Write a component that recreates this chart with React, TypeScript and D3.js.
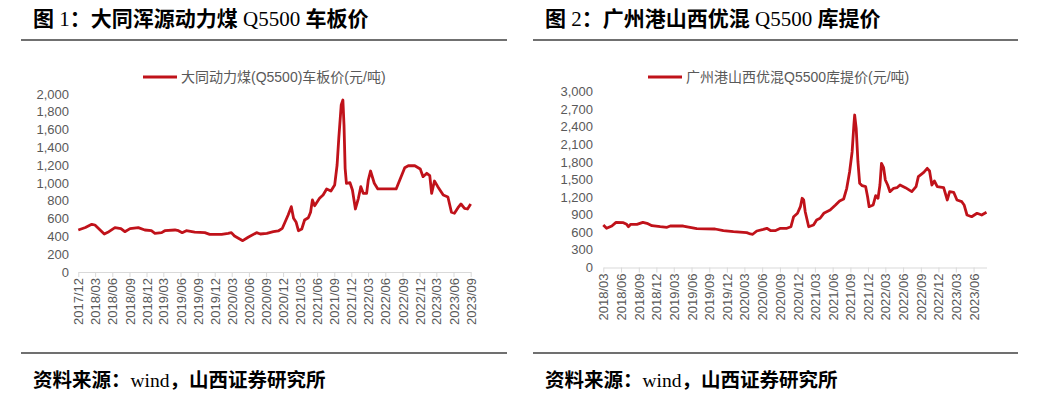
import React, { useEffect, useRef } from 'react';
import * as d3 from 'd3';

// 图1 大同浑源动力煤 Q5500 车板价
const datongDates = [
  '2017-12-01', '2018-01-08', '2018-02-11', '2018-02-28', '2018-04-19', '2018-05-08', '2018-06-15',
  '2018-07-17', '2018-08-07', '2018-09-04', '2018-10-18', '2018-11-22', '2018-12-27', '2019-01-15',
  '2019-02-20', '2019-03-09', '2019-05-02', '2019-05-21', '2019-06-10', '2019-07-02', '2019-08-16',
  '2019-10-09', '2019-11-04', '2020-01-07', '2020-02-11', '2020-02-28', '2020-03-16', '2020-04-29',
  '2020-05-28', '2020-07-12', '2020-08-01', '2020-09-05', '2020-10-10', '2020-11-05', '2020-11-27',
  '2020-12-28', '2021-01-14', '2021-01-26', '2021-02-09', '2021-02-21', '2021-03-11', '2021-03-26',
  '2021-04-15', '2021-04-27', '2021-05-07', '2021-05-19', '2021-06-14', '2021-07-03', '2021-07-22',
  '2021-08-14', '2021-09-03', '2021-09-16', '2021-09-25', '2021-10-08', '2021-10-17', '2021-10-23',
  '2021-10-29', '2021-11-05', '2021-11-24', '2021-12-07', '2021-12-23', '2022-01-08', '2022-01-21',
  '2022-02-03', '2022-02-21', '2022-03-02', '2022-03-14', '2022-04-03', '2022-04-22', '2022-07-29',
  '2022-09-13', '2022-10-02', '2022-11-06', '2022-12-05', '2022-12-20', '2023-01-09', '2023-01-25',
  '2023-02-04', '2023-02-19', '2023-03-09', '2023-04-07', '2023-05-02', '2023-05-21', '2023-06-06',
  '2023-06-25', '2023-07-11', '2023-07-30', '2023-08-15', '2023-09-01',
];
const datongValues = [
  472, 500, 536, 528, 427, 446, 498,
  487, 453, 487, 498, 472, 464, 435,
  442, 464, 472, 464, 442, 464, 449,
  442, 423, 423, 435, 442, 404, 352,
  390, 442, 427, 435, 453, 461, 491,
  640, 734, 603, 558, 464, 483, 584,
  610, 671, 809, 745, 828, 865, 933,
  910, 977, 1202, 1502, 1876, 1933, 1652,
  1165, 997, 1003, 921, 708, 828, 959,
  884, 884, 1034, 1135, 997, 933, 933,
  1172, 1194, 1194, 1157, 1071, 1109, 1082,
  884, 1022, 959, 865, 843, 671, 660,
  723, 764, 716, 708, 764,
];

// 图2 广州港山西优混 Q5500 库提价
const gzDates = [
  '2018-03-01', '2018-03-18', '2018-04-14', '2018-05-06', '2018-06-13', '2018-06-30', '2018-07-09',
  '2018-07-21', '2018-08-22', '2018-09-22', '2018-10-13', '2018-11-08', '2018-12-21', '2019-01-25',
  '2019-02-11', '2019-04-19', '2019-06-28', '2019-10-01', '2019-11-13', '2020-01-04', '2020-03-13',
  '2020-04-01', '2020-04-13', '2020-05-04', '2020-06-07', '2020-06-25', '2020-07-16', '2020-08-07',
  '2020-09-04', '2020-10-07', '2020-10-28', '2020-11-11', '2020-12-01', '2020-12-16', '2020-12-25',
  '2021-01-02', '2021-01-10', '2021-01-28', '2021-02-22', '2021-03-10', '2021-03-28', '2021-04-16',
  '2021-05-19', '2021-06-16', '2021-07-07', '2021-07-28', '2021-08-13', '2021-08-28', '2021-09-10',
  '2021-09-19', '2021-09-23', '2021-10-01', '2021-10-10', '2021-10-19', '2021-11-01', '2021-11-19',
  '2021-11-29', '2021-12-07', '2021-12-28', '2022-01-10', '2022-01-22', '2022-02-01', '2022-02-09',
  '2022-02-20', '2022-03-01', '2022-03-13', '2022-03-25', '2022-04-13', '2022-04-30', '2022-05-16',
  '2022-06-13', '2022-07-16', '2022-08-07', '2022-08-19', '2022-09-16', '2022-10-04', '2022-10-16',
  '2022-10-28', '2022-11-10', '2022-11-25', '2022-12-28', '2023-01-16', '2023-01-28', '2023-02-18',
  '2023-03-07', '2023-04-01', '2023-04-13', '2023-04-28', '2023-05-22', '2023-06-19', '2023-07-13',
  '2023-08-07',
];
const gzValues = [
  725, 669, 708, 771, 765, 737, 696,
  737, 737, 771, 754, 713, 696, 686,
  708, 708, 662, 657, 628, 611, 594,
  572, 567, 623, 652, 669, 628, 628,
  669, 669, 696, 867, 925, 1038, 1181,
  1152, 952, 696, 725, 811, 840, 925,
  981, 1067, 1135, 1169, 1352, 1635, 1976,
  2432, 2602, 2375, 1805, 1437, 1396, 1379,
  1208, 1038, 1067, 1225, 1181, 1408, 1778,
  1703, 1493, 1408, 1294, 1352, 1362, 1408,
  1362, 1294, 1379, 1550, 1624, 1693, 1647,
  1408, 1476, 1379, 1362, 1152, 1294, 1283,
  1152, 1123, 1067, 896, 867, 925, 896,
  942,
];

const datongXTicks = [
  '2017/12', '2018/03', '2018/06', '2018/09', '2018/12', '2019/03', '2019/06', '2019/09',
  '2019/12', '2020/03', '2020/06', '2020/09', '2020/12', '2021/03', '2021/06', '2021/09',
  '2021/12', '2022/03', '2022/06', '2022/09', '2022/12', '2023/03', '2023/06', '2023/09',
];
const gzXTicks = [
  '2018/03', '2018/06', '2018/09', '2018/12', '2019/03', '2019/06', '2019/09', '2019/12',
  '2020/03', '2020/06', '2020/09', '2020/12', '2021/03', '2021/06', '2021/09', '2021/12',
  '2022/03', '2022/06', '2022/09', '2022/12', '2023/03', '2023/06',
];
const datongYTicks = [0, 200, 400, 600, 800, 1000, 1200, 1400, 1600, 1800, 2000];
const gzYTicks = [0, 300, 600, 900, 1200, 1500, 1800, 2100, 2400, 2700, 3000];

const LINE_COLOR = '#c0121a';
const TEXT_GRAY = '#595959';
const SANS = '"Liberation Sans", Arial, "Noto Sans CJK SC", sans-serif';
const CJK = '"Noto Sans CJK SC", sans-serif';
const SERIF = '"Liberation Serif", "Times New Roman", serif';

const parseDay = d3.timeParse('%Y-%m-%d');
const parseTick = d3.timeParse('%Y/%m');

function drawPanel(svg, cfg) {
  const g = svg.append('g');
  const { left, right, x0, x1, yTop, yBottom } = cfg;

  // title, made of CJK and latin pieces
  const title = g.append('text')
    .attr('x', left + 12)
    .attr('y', 26)
    .attr('font-size', 21)
    .attr('fill', '#000');
  cfg.title.forEach(([s, latin]) => {
    title.append('tspan')
      .attr('font-family', latin ? SERIF : CJK)
      .attr('font-weight', latin ? 400 : 700)
      .text(s);
  });

  g.append('line')
    .attr('x1', left).attr('x2', right)
    .attr('y1', 40).attr('y2', 40)
    .attr('stroke', '#404040').attr('stroke-width', 1.5);

  g.append('line')
    .attr('x1', left).attr('x2', right)
    .attr('y1', 353).attr('y2', 353)
    .attr('stroke', '#404040').attr('stroke-width', 1.5);

  const src = g.append('text')
    .attr('x', left + 12)
    .attr('y', 387)
    .attr('font-size', 19.5)
    .attr('fill', '#000');
  [['资料来源：', false], ['wind', true], ['，山西证券研究所', false]].forEach(([s, latin]) => {
    src.append('tspan')
      .attr('font-family', latin ? SERIF : CJK)
      .attr('font-weight', latin ? 400 : 700)
      .text(s);
  });

  const data = cfg.dates.map((d, i) => ({ date: parseDay(d), value: cfg.values[i] }));

  const xScale = d3.scaleTime()
    .domain([parseDay(cfg.domain[0]), parseDay(cfg.domain[1])])
    .range([x0, x1]);

  const yScale = d3.scaleLinear()
    .domain([0, cfg.yTicks[cfg.yTicks.length - 1]])
    .range([yBottom, yTop]);

  // y labels, no axis line
  g.append('g')
    .selectAll('text')
    .data(cfg.yTicks)
    .join('text')
    .attr('x', cfg.yLabelX)
    .attr('y', d => yScale(d))
    .attr('dy', '0.35em')
    .attr('text-anchor', 'end')
    .attr('font-family', SANS)
    .attr('font-size', 13)
    .attr('fill', TEXT_GRAY)
    .text(d => d3.format(',')(d));

  // x axis
  const tickDates = cfg.xTicks.map(t => parseTick(t));
  const xAxis = g.append('g')
    .attr('transform', `translate(0,${yBottom})`)
    .call(d3.axisBottom(xScale).tickValues(tickDates).tickSize(5).tickSizeOuter(0).tickFormat(d3.timeFormat('%Y/%m')));
  xAxis.select('.domain').attr('stroke', '#d9d9d9');
  xAxis.selectAll('.tick line').attr('stroke', '#d9d9d9');
  xAxis.selectAll('.tick text')
    .attr('font-family', SANS)
    .attr('font-size', 13)
    .attr('fill', TEXT_GRAY)
    .attr('text-anchor', 'end')
    .attr('transform', 'rotate(-90)')
    .attr('x', -6)
    .attr('y', 0)
    .attr('dy', '0.35em');

  const line = d3.line()
    .x(d => xScale(d.date))
    .y(d => yScale(d.value));

  g.append('path')
    .datum(data)
    .attr('d', line)
    .attr('fill', 'none')
    .attr('stroke', LINE_COLOR)
    .attr('stroke-width', 2.8)
    .attr('stroke-linejoin', 'round');

  // legend
  g.append('line')
    .attr('x1', cfg.legendX).attr('x2', cfg.legendX + 34)
    .attr('y1', 77).attr('y2', 77)
    .attr('stroke', LINE_COLOR).attr('stroke-width', 3);
  g.append('text')
    .attr('x', cfg.legendX + 38)
    .attr('y', 77)
    .attr('dy', '0.35em')
    .attr('font-family', SANS)
    .attr('font-size', 14)
    .attr('fill', TEXT_GRAY)
    .text(cfg.legend);
}

const App = () => {
  const chartRef = useRef(null);

  useEffect(() => {
    const svg = d3.select(chartRef.current);
    svg.selectAll('*').remove();

    drawPanel(svg, {
      left: 21, right: 507,
      x0: 78.3, x1: 470.7, yTop: 94, yBottom: 272,
      yLabelX: 69,
      domain: ['2017-12-01', '2023-09-01'],
      dates: datongDates, values: datongValues,
      xTicks: datongXTicks, yTicks: datongYTicks,
      legendX: 143,
      legend: '大同动力煤(Q5500)车板价(元/吨)',
      title: [['图', false], [' 1', true], ['：大同浑源动力煤', false], [' Q5500 ', true], ['车板价', false]],
    });

    drawPanel(svg, {
      left: 533, right: 1018,
      x0: 603.3, x1: 986.5, yTop: 91.7, yBottom: 267.5,
      yLabelX: 593,
      domain: ['2018-03-01', '2023-08-07'],
      dates: gzDates, values: gzValues,
      xTicks: gzXTicks, yTicks: gzYTicks,
      legendX: 648,
      legend: '广州港山西优混Q5500库提价(元/吨)',
      title: [['图', false], [' 2', true], ['：广州港山西优混', false], [' Q5500 ', true], ['库提价', false]],
    });
  }, []);

  return (
    <svg
      ref={chartRef}
      width={1045}
      height={404}
      style={{ position: 'absolute', left: 0, top: 0, background: '#fff' }}
    ></svg>
  );
};

export default App;
